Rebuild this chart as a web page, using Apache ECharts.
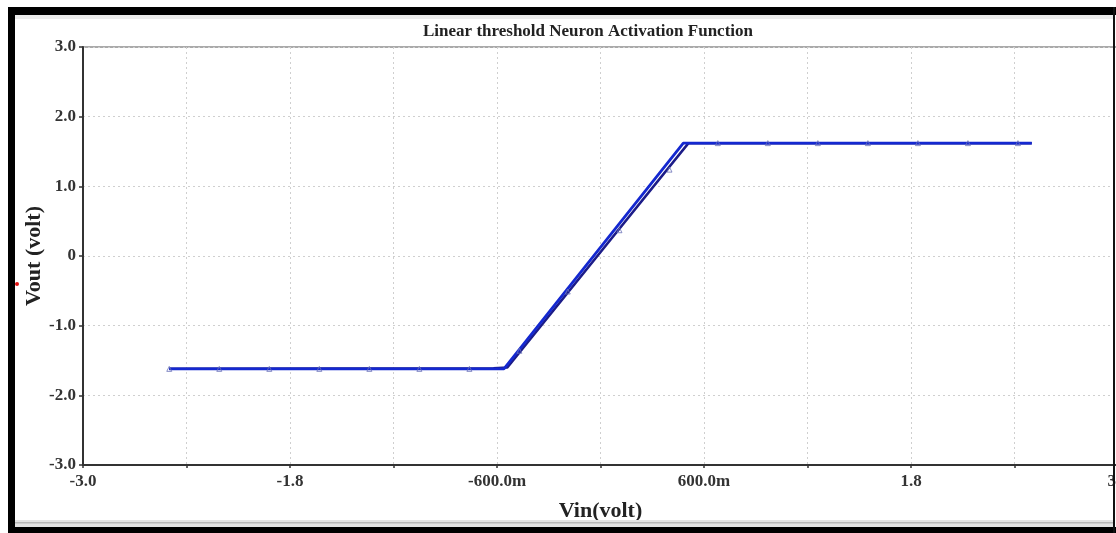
<!DOCTYPE html>
<html>
<head>
<meta charset="utf-8">
<script src="https://cdn.jsdelivr.net/npm/echarts@6/dist/echarts.min.js"></script>
<style>
html,body{margin:0;padding:0;background:#fff;}
#chart{width:1116px;height:533px;}
</style>
</head>
<body>
<div id="chart"></div>
<script>
// Data
const vinA  = [-2.50, -0.56, 0.48, 2.50];
const voutA = [-1.62, -1.62, 1.62, 1.62];
const vinB  = [-2.50, -0.62, -0.54, 0.51, 2.50];
const voutB = [-1.62, -1.61, -1.60, 1.62, 1.62];
const markerVin  = [-2.50, -2.21, -1.92, -1.63, -1.34, -1.05, -0.76, -0.47, -0.19, 0.11, 0.40, 0.68, 0.97, 1.26, 1.55, 1.84, 2.13, 2.42];
const markerVout = [-1.62, -1.62, -1.62, -1.62, -1.62, -1.62, -1.62, -1.36, -0.51, 0.37, 1.24, 1.62, 1.62, 1.62, 1.62, 1.62, 1.62, 1.62];
const xTickValues = [-3.0, -1.8, -0.6, 0.6, 1.8, 3.0];
const xTickLabels = ['-3.0', '-1.8', '-600.0m', '600.0m', '1.8', '3.0'];
const yTickValues = [3, 2, 1, 0, -1, -2, -3];
const yTickLabels = ['3.0', '2.0', '1.0', '0', '-1.0', '-2.0', '-3.0'];

function zip(a, b) { return a.map((v, i) => [v, b[i]]); }
function lookup(vals, labels, v) {
  const r = Math.round(v * 10) / 10;
  for (let i = 0; i < vals.length; i++) if (Math.abs(vals[i] - r) < 1e-6) return labels[i];
  return '';
}

const serif = '"Liberation Serif", "DejaVu Serif", serif';
const chart = echarts.init(document.getElementById('chart'), null, {renderer: 'canvas'});
chart.setOption({
  animation: false,
  backgroundColor: '#ffffff',
  title: {
    text: 'Linear threshold Neuron Activation Function',
    left: 583, top: 18, textAlign: 'center',
    textStyle: {fontFamily: serif, fontWeight: 'bold', fontSize: 17, color: '#222'}
  },
  grid: {left: 83, top: 47, width: 1035, height: 418, show: true, borderColor: '#555', borderWidth: 1,
         backgroundColor: '#fff', containLabel: false, outerBoundsMode: 'none'},
  xAxis: {
    type: 'value', min: -3, max: 3, interval: 0.6,
    name: 'Vin(volt)', nameLocation: 'middle', nameGap: 35, nameMoveOverlap: false,
    nameTextStyle: {fontFamily: serif, fontWeight: 'bold', fontSize: 22, color: '#222'},
    axisLine: {show: true, onZero: false, lineStyle: {color: '#333', width: 2}},
    axisTick: {show: true, length: 3, lineStyle: {color: '#333', width: 1.5}},
    axisLabel: {
      margin: 8, fontFamily: serif, fontWeight: 'bold', fontSize: 17, color: '#333',
      showMinLabel: true, showMaxLabel: true, hideOverlap: false,
      formatter: v => lookup(xTickValues, xTickLabels, v)
    },
    splitLine: {show: true, lineStyle: {color: '#cfcfcf', type: [2, 3], width: 1}}
  },
  yAxis: {
    type: 'value', min: -3, max: 3, interval: 1,
    name: 'Vout (volt)', nameLocation: 'middle', nameGap: 38, nameRotate: 90, nameMoveOverlap: false,
    nameTextStyle: {fontFamily: serif, fontWeight: 'bold', fontSize: 22, color: '#222'},
    axisLine: {show: true, onZero: false, lineStyle: {color: '#333', width: 2}},
    axisTick: {show: true, length: 4, lineStyle: {color: '#333', width: 1.5}},
    axisLabel: {
      margin: 7, fontFamily: serif, fontWeight: 'bold', fontSize: 17, color: '#333',
      formatter: v => lookup(yTickValues, yTickLabels, v)
    },
    splitLine: {show: true, lineStyle: {color: '#cfcfcf', type: [2, 3], width: 1}}
  },
  series: [
    {
      type: 'line', data: zip(vinB, voutB), showSymbol: false, symbol: 'none',
      lineStyle: {color: '#1c1c88', width: 2.5}, z: 2
    },
    {
      type: 'line', data: zip(vinA, voutA), showSymbol: false, symbol: 'none',
      lineStyle: {color: '#1428d0', width: 2.8}, z: 3
    },
    {
      type: 'scatter', data: zip(markerVin, markerVout), symbol: 'triangle', symbolSize: 5,
      itemStyle: {color: 'rgba(255,255,255,0)', borderColor: '#6a72b8', borderWidth: 1}, z: 4
    }
  ],
  graphic: [
    {type: 'rect', shape: {x: 8, y: 7, width: 1108, height: 8}, style: {fill: '#000'}, z: 100},
    {type: 'rect', shape: {x: 8, y: 7, width: 7, height: 526}, style: {fill: '#000'}, z: 100},
    {type: 'rect', shape: {x: 8, y: 527, width: 1108, height: 6}, style: {fill: '#000'}, z: 100},
    {type: 'rect', shape: {x: 1113, y: 7, width: 2, height: 526}, style: {fill: '#111'}, z: 100},
    {type: 'rect', shape: {x: 15, y: 15, width: 1098, height: 4}, style: {fill: '#ececec'}, z: 99},
    {type: 'rect', shape: {x: 15, y: 520, width: 1098, height: 7}, style: {fill: '#e4e4e4'}, z: 99},
    {type: 'rect', shape: {x: 15, y: 522, width: 1098, height: 1.5}, style: {fill: '#b8b8b8'}, z: 99},
    {type: 'circle', shape: {cx: 17, cy: 284, r: 2}, style: {fill: '#e01010'}, z: 101}
  ]
});
</script>
</body>
</html>
